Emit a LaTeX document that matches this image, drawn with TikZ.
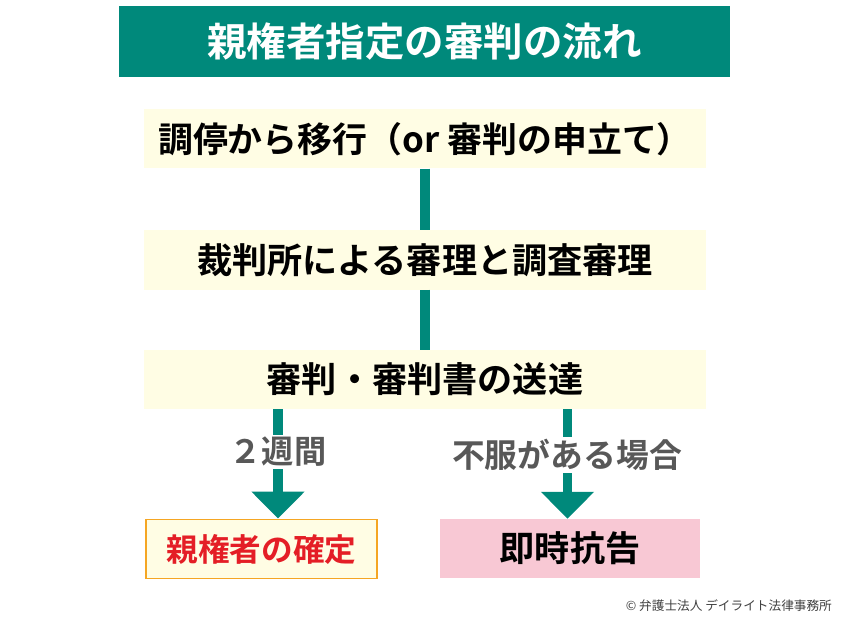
\documentclass[tikz,border=0pt]{standalone}
\usepackage{fontspec}
\setmainfont{Noto Sans CJK JP}[BoldFont={Noto Sans CJK JP Bold}]
\usepackage{tikz}
\usetikzlibrary{arrows.meta}

\definecolor{teal}{RGB}{0,137,123}
\definecolor{cream}{RGB}{255,253,228}
\definecolor{orangeline}{RGB}{245,166,35}
\definecolor{redtext}{RGB}{228,30,38}
\definecolor{pinkbox}{RGB}{248,200,212}
\definecolor{graytext}{RGB}{88,88,88}

\begin{document}
\begin{tikzpicture}[
        x=0.03cm, y=-0.03cm,
        every node/.style={font=\bfseries},
        stepbox/.style={fill=cream, minimum width=16.86cm, minimum height=1.77cm, font=\bfseries\fontsize{30}{33}\selectfont},
        conn/.style={draw=teal, line width=8.5pt},
        arr/.style={draw=teal, line width=8.5pt, -{Triangle[width=44pt,length=23pt]}},
        lbl/.style={fill=white, text=graytext, inner sep=2pt, font=\bfseries\fontsize{28}{30}\selectfont},
    ]
    \useasboundingbox (0,0) rectangle (850,628);

    % titulo
    \node[fill=teal, text=white, minimum width=18.33cm, minimum height=2.13cm,
          font=\bfseries\fontsize{33.7}{36}\selectfont] (title) at (424.5,41.5) {親権者指定の審判の流れ};

    % pasos
    \node[stepbox, font=\bfseries\fontsize{29.8}{33}\selectfont] (s1) at (425,139) {調停から移行（or 審判の申立て）};
    \node[stepbox] (s2) at (425,260) {裁判所による審理と調査審理};
    \node[stepbox] (s3) at (425,379.5) {審判・審判書の送達};
    \draw[conn] (s1) -- (s2);
    \draw[conn] (s2) -- (s3);

    % resultados
    \node[fill=cream, draw=orangeline, line width=1.6pt, minimum width=6.95cm, minimum height=1.77cm,
          text=redtext, font=\bfseries\fontsize{27}{30}\selectfont] (r1) at (261.5,549) {親権者の確定};
    \node[fill=pinkbox, minimum width=7.8cm, minimum height=1.77cm,
          font=\bfseries\fontsize{30}{32}\selectfont] (r2) at (570,548.5) {即時抗告};

    \coordinate (c1) at (278,0);
    \coordinate (c2) at (567.5,0);
    \draw[arr] (s3.south -| c1) -- (r1.north -| c1);
    \draw[arr] (s3.south -| c2) -- (r2.north -| c2);
    \node[lbl, font=\bfseries\fontsize{27.5}{30}\selectfont] (l1) at (278,452) {２週間};
    \node[lbl] (l2) at (567,455) {不服がある場合};

    \node[text=black!75, font=\fontsize{10.8}{12}\selectfont, anchor=east] (copy) at (836,606) {© 弁護士法人 デイライト法律事務所};
\end{tikzpicture}
\end{document}
